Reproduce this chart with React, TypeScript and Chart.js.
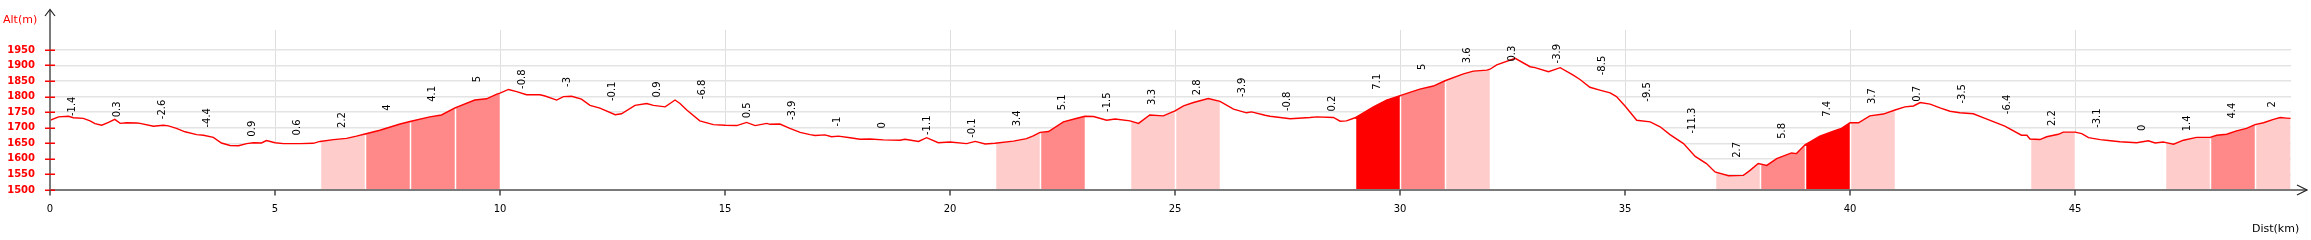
import React, { useEffect, useRef } from 'react';
import { Chart, registerables } from 'chart.js';

Chart.register(...registerables);

// distance along the route (km)
const distKm = [
  0, 0.19, 0.41, 0.52, 0.74, 0.89, 1.0, 1.15, 1.3, 1.44, 1.56, 1.7, 1.93,
  2.0, 2.3, 2.52, 2.63, 2.81, 3.0, 3.26, 3.41, 3.63, 3.81, 4.0, 4.19, 4.37,
  4.52, 4.7, 4.81, 5.0, 5.19, 5.56, 5.85, 6.0, 6.3, 6.59, 6.81, 7.0, 7.33,
  7.78, 8.0, 8.44, 8.7, 9.0, 9.44, 9.7, 9.93, 10.0, 10.19, 10.37, 10.59,
  10.89, 11.0, 11.26, 11.41, 11.59, 11.81, 12.0, 12.22, 12.56, 12.7, 13.0,
  13.26, 13.41, 13.67, 13.89, 14.0, 14.15, 14.44, 14.74, 15.0, 15.26, 15.48,
  15.67, 15.93, 16.0, 16.22, 16.44, 16.67, 16.89, 17.0, 17.22, 17.37, 17.52,
  17.78, 18.0, 18.22, 18.52, 18.89, 19.0, 19.3, 19.48, 19.74, 20.0, 20.37,
  20.56, 20.78, 21.0, 21.41, 21.7, 21.85, 22.0, 22.19, 22.52, 22.78, 23.0,
  23.19, 23.48, 23.67, 24.0, 24.19, 24.44, 24.74, 25.0, 25.19, 25.41, 25.74,
  26.0, 26.3, 26.59, 26.7, 27.0, 27.11, 27.56, 28.0, 28.15, 28.52, 28.67,
  28.81, 29.0, 29.41, 29.7, 30.0, 30.44, 30.74, 31.0, 31.41, 31.63, 31.93,
  32.0, 32.15, 32.56, 32.89, 33.0, 33.3, 33.56, 33.85, 34.0, 34.22, 34.44,
  34.67, 34.81, 35.0, 35.26, 35.56, 35.78, 36.0, 36.3, 36.56, 36.81, 37.0,
  37.3, 37.63, 37.78, 37.96, 38.0, 38.15, 38.37, 38.7, 38.81, 39.0, 39.33,
  39.63, 39.81, 40.0, 40.19, 40.44, 40.74, 41.0, 41.22, 41.41, 41.56, 41.78,
  42.0, 42.22, 42.44, 42.74, 43.0, 43.44, 43.81, 43.93, 44.0, 44.22, 44.37,
  44.63, 44.74, 45.0, 45.15, 45.3, 45.56, 45.74, 46.0, 46.37, 46.63, 46.78,
  46.96, 47.0, 47.19, 47.41, 47.7, 48.0, 48.15, 48.37, 48.59, 48.81, 49.0,
  49.19, 49.41, 49.56, 49.7, 49.79,
];

// altitude (m)
const altM = [
  1724, 1735, 1737, 1732, 1730, 1722, 1713, 1708, 1717, 1727, 1714, 1716, 1715,
  1714, 1705, 1708, 1706, 1698, 1687, 1678, 1676, 1669, 1651, 1643, 1642, 1649,
  1652, 1651, 1659, 1652, 1649, 1649, 1650, 1656, 1662, 1666, 1673, 1680, 1692,
  1712, 1720, 1735, 1741, 1764, 1789, 1793, 1808, 1811, 1823, 1816, 1806,
  1806, 1802, 1789, 1800, 1801, 1792, 1772, 1763, 1742, 1745, 1772,
  1778, 1772, 1767, 1789, 1778, 1757, 1722, 1710, 1708, 1707, 1717,
  1707, 1714, 1711, 1712, 1698, 1685, 1678, 1675, 1677, 1671, 1673,
  1668, 1663, 1664, 1661, 1660, 1663, 1656, 1668, 1652, 1654, 1649,
  1656, 1648, 1650, 1657, 1665, 1674, 1685, 1688, 1719, 1729, 1737,
  1736, 1724, 1728, 1722, 1714, 1741, 1738, 1754, 1770, 1781, 1794,
  1785, 1760, 1748, 1751, 1740, 1737, 1729, 1733, 1735, 1733, 1721,
  1722, 1732, 1767, 1789, 1803, 1824, 1834, 1851, 1873, 1882, 1885,
  1888, 1902, 1923, 1896, 1893, 1880, 1893, 1869, 1855, 1830, 1821,
  1812, 1800, 1770, 1724, 1719, 1703, 1678, 1649, 1608, 1585, 1558,
  1546, 1547, 1563, 1585, 1584, 1579, 1601, 1619, 1617, 1645, 1673,
  1689, 1698, 1716, 1716, 1738, 1744, 1757, 1767, 1770, 1781, 1776,
  1764, 1753, 1748, 1745, 1730, 1705, 1676, 1676, 1664, 1662, 1671,
  1679, 1686, 1686, 1681, 1668, 1662, 1659, 1655, 1652, 1658, 1651,
  1654, 1653, 1647, 1660, 1669, 1669, 1676, 1679, 1690, 1698, 1710,
  1716, 1727, 1733, 1731, 1730,
];

// gradient (%) of each kilometre
const gradePct = [
  -1.4, 0.3, -2.6, -4.4, 0.9, 0.6, 2.2, 4, 4.1, 5,
  -0.8, -3, -0.1, 0.9, -6.8, 0.5, -3.9, -1, 0, -1.1,
  -0.1, 3.4, 5.1, -1.5, 3.3, 2.8, -3.9, -0.8, 0.2, 7.1,
  5, 3.6, 0.3, -3.9, -8.5, -9.5, -11.3, 2.7, 5.8, 7.4,
  3.7, 0.7, -3.5, -6.4, 2.2, -3.1, 0, 1.4, 4.4, 2,
];

const yTickValues = [1500, 1550, 1600, 1650, 1700, 1750, 1800, 1850, 1900, 1950];
const xTickValues = [0, 5, 10, 15, 20, 25, 30, 35, 40, 45];

function gradeColor(g: number): string | null {
  if (g >= 7) return '#ff0000';
  if (g >= 4) return '#ff8888';
  if (g >= 1) return '#ffcccc';
  return null;
}

export default function App() {
  const ref = useRef<HTMLCanvasElement>(null);

  useEffect(() => {
    document.body.style.margin = '0';
    const canvas = ref.current;
    if (!canvas) return;

    const points = distKm.map((x, i) => ({ x, y: altM[i] }));
    const lastKm = distKm[distKm.length - 1];
    const altAt = (k: number) => {
      const idx = distKm.findIndex((d) => Math.abs(d - k) < 1e-6);
      return idx >= 0 ? altM[idx] : altM[altM.length - 1];
    };

    const segDatasets: any[] = [];
    gradePct.forEach((g, i) => {
      const color = gradeColor(g);
      if (!color) return;
      const data = points.filter((p) => p.x >= i - 1e-9 && p.x <= i + 1 + 1e-9);
      segDatasets.push({
        data,
        backgroundColor: color,
        borderWidth: 0,
        borderColor: 'rgba(0,0,0,0)',
        fill: 'start',
        pointRadius: 0,
        order: 1,
      });
    });

    const FONT = '"DejaVu Sans", Verdana, sans-serif';

    const decorPlugin = {
      id: 'decor',
      beforeDatasetDraw(chart: any, args: any) {
        if (args.index !== 0) return;
        const ctx = chart.ctx;
        const xs = chart.scales.x;
        const ys = chart.scales.y;
        ctx.save();
        ctx.strokeStyle = '#ffffff';
        ctx.lineWidth = 1.5;
        for (let k = 1; k < lastKm; k++) {
          const px = Math.round(xs.getPixelForValue(k)) + 0.5;
          ctx.beginPath();
          ctx.moveTo(px, ys.bottom);
          ctx.lineTo(px, ys.getPixelForValue(altAt(k)) + 1);
          ctx.stroke();
        }
        ctx.restore();
      },
      afterDatasetsDraw(chart: any) {
        const ctx = chart.ctx;
        const xs = chart.scales.x;
        const ys = chart.scales.y;
        ctx.save();
        ctx.fillStyle = '#000000';
        ctx.font = `10px ${FONT}`;
        ctx.textAlign = 'center';
        ctx.textBaseline = 'middle';
        gradePct.forEach((g, i) => {
          const end = Math.min(i + 1, lastKm);
          const top = Math.max(altAt(i), altAt(end));
          const px = xs.getPixelForValue((i + end) / 2);
          const py = ys.getPixelForValue(top) - 14;
          ctx.save();
          ctx.translate(px, py);
          ctx.rotate(-Math.PI / 2);
          ctx.fillText(String(g), 0, 0);
          ctx.restore();
        });
        ctx.restore();
      },
      afterDraw(chart: any) {
        const ctx = chart.ctx;
        const xs = chart.scales.x;
        const ys = chart.scales.y;
        const ax = xs.left;
        const ay = ys.bottom;
        ctx.save();
        // axes
        ctx.strokeStyle = '#7a7a7a';
        ctx.lineWidth = 2;
        ctx.beginPath();
        ctx.moveTo(ax, 10);
        ctx.lineTo(ax, ay + 1);
        ctx.moveTo(ax - 1, ay);
        ctx.lineTo(2307, ay);
        ctx.stroke();
        // arrows
        ctx.strokeStyle = '#222222';
        ctx.lineWidth = 1.2;
        ctx.beginPath();
        ctx.moveTo(ax - 5, 16);
        ctx.lineTo(ax, 9.5);
        ctx.lineTo(ax + 5, 16);
        ctx.moveTo(2297, ay - 5);
        ctx.lineTo(2307, ay);
        ctx.lineTo(2297, ay + 5);
        ctx.stroke();
        // y tick marks
        ctx.strokeStyle = '#ff0000';
        ctx.lineWidth = 1.5;
        yTickValues.forEach((v) => {
          const py = Math.round(ys.getPixelForValue(v)) + 0.25;
          ctx.beginPath();
          ctx.moveTo(ax - 5, py);
          ctx.lineTo(ax + 5, py);
          ctx.stroke();
        });
        // x tick marks
        ctx.strokeStyle = '#444444';
        ctx.lineWidth = 1.5;
        xTickValues.forEach((v) => {
          const px = Math.round(xs.getPixelForValue(v));
          ctx.beginPath();
          ctx.moveTo(px, ay);
          ctx.lineTo(px, ay + 5.5);
          ctx.stroke();
        });
        // axis titles
        ctx.font = `11px ${FONT}`;
        ctx.textBaseline = 'middle';
        ctx.textAlign = 'left';
        ctx.fillStyle = '#ff0000';
        ctx.fillText('Alt(m)', 3, 20);
        ctx.fillStyle = '#000000';
        ctx.fillText('Dist(km)', 2252, 229);
        ctx.restore();
      },
    };

    const chart = new Chart(canvas, {
      type: 'line',
      data: {
        datasets: [
          {
            data: points,
            borderColor: '#ff0000',
            borderWidth: 1.4,
            fill: false,
            pointRadius: 0,
            tension: 0,
            order: 0,
          },
          ...segDatasets,
          {
            data: points,
            backgroundColor: '#ffffff',
            borderWidth: 0,
            borderColor: 'rgba(0,0,0,0)',
            fill: 'start',
            pointRadius: 0,
            order: 2,
          },
        ],
      },
      options: {
        responsive: false,
        animation: false,
        devicePixelRatio: 1,
        layout: { padding: { top: 30, right: 20, left: 0, bottom: 0 } },
        plugins: { legend: { display: false }, tooltip: { enabled: false } },
        events: [],
        scales: {
          x: {
            type: 'linear',
            min: 0,
            max: 49.8,
            afterFit: (s: any) => {
              s.height = 50;
            },
            afterBuildTicks: (s: any) => {
              s.ticks = xTickValues.map((v) => ({ value: v }));
            },
            grid: { color: '#dedede', lineWidth: 1, drawTicks: false },
            border: { display: false },
            ticks: {
              color: '#000000',
              font: { family: FONT, size: 10 },
              padding: 13,
              maxRotation: 0,
              autoSkip: false,
              callback: (v: any) => String(v),
            },
          },
          y: {
            type: 'linear',
            min: 1500,
            max: 2014,
            afterFit: (s: any) => {
              s.width = 50;
            },
            afterBuildTicks: (s: any) => {
              s.ticks = yTickValues.map((v) => ({ value: v }));
            },
            grid: { color: '#e4e4e4', lineWidth: 1.5, drawTicks: false },
            border: { display: false },
            ticks: {
              color: '#ff0000',
              font: { family: FONT, size: 10, weight: 'bold' },
              padding: 15,
              autoSkip: false,
              callback: (v: any) => String(v),
            },
          },
        },
      },
      plugins: [decorPlugin],
    } as any);

    return () => chart.destroy();
  }, []);

  return <canvas ref={ref} width={2311} height={240} style={{ display: 'block' }} />;
}
